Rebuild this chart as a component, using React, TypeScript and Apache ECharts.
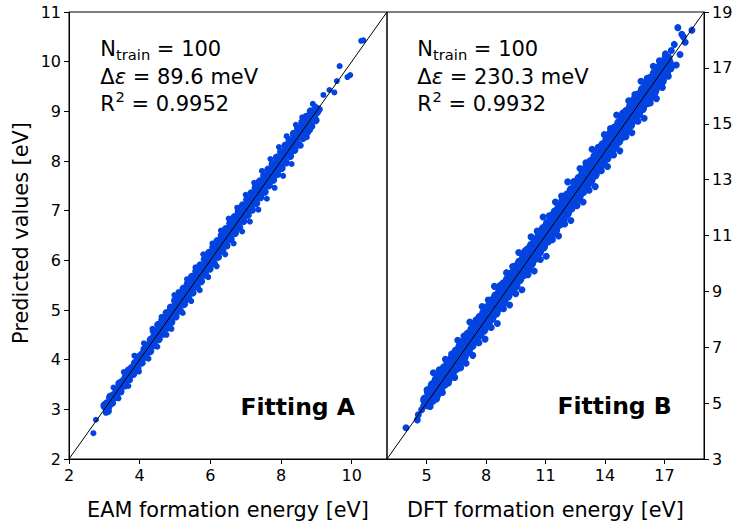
import React, { useEffect, useRef } from "react";
import * as echarts from "echarts";

// ---- axis ranges & ticks ----
const rangeA = [2, 11];
const rangeB = [3, 19];
const xTicksA = [2, 4, 6, 8, 10];
const yTicksA = [2, 3, 4, 5, 6, 7, 8, 9, 10, 11];
const xTicksB = [5, 8, 11, 14, 17];
const yTicksB = [3, 5, 7, 9, 11, 13, 15, 17, 19];

// ---- annotation texts ----
const labelA = "Fitting A";
const labelB = "Fitting B";
const nTrainA = "100";
const nTrainB = "100";
const deltaA = "89.6 meV";
const deltaB = "230.3 meV";
const r2A = "0.9952";
const r2B = "0.9932";
const xTitleA = "EAM formation energy [eV]";
const xTitleB = "DFT formation energy [eV]";
const yTitle = "Predicted values [eV]";

// ---- Fitting A: dense core of the cloud ----
const fitACore = [
  [3.03, 3.07], [3.11, 3.09], [3.19, 3.24], [3.28, 3.27], [3.37, 3.38], [3.45, 3.51], [3.54, 3.55], [3.63, 3.64],
  [3.71, 3.77], [3.8, 3.82], [3.89, 3.92], [3.98, 4.03], [4.07, 4.08], [4.16, 4.2], [4.25, 4.27], [4.34, 4.39],
  [4.43, 4.45], [4.52, 4.56], [4.61, 4.63], [4.7, 4.76], [4.79, 4.81], [4.88, 4.93], [4.97, 4.99], [5.06, 5.12],
  [5.15, 5.17], [5.24, 5.29], [5.33, 5.35], [5.42, 5.46], [5.51, 5.53], [5.6, 5.66], [5.69, 5.71], [5.78, 5.82],
  [5.87, 5.88], [5.96, 6.02], [6.05, 6.07], [6.14, 6.18], [6.23, 6.25], [6.32, 6.37], [6.41, 6.42], [6.5, 6.55],
  [6.59, 6.6], [6.68, 6.74], [6.77, 6.78], [6.86, 6.9], [6.95, 6.96], [7.04, 7.09], [7.13, 7.14], [7.22, 7.26],
  [7.31, 7.32], [7.4, 7.45], [7.49, 7.5], [7.58, 7.62], [7.67, 7.68], [7.76, 7.81], [7.85, 7.86], [7.94, 7.98],
  [8.03, 8.04], [8.12, 8.16], [8.21, 8.22], [8.3, 8.34], [8.39, 8.4], [8.48, 8.52], [8.57, 8.58], [8.66, 8.7],
  [8.75, 8.76], [8.84, 8.87], [8.93, 8.95], [9.02, 9.03],
];
const fitAUpper = [
  [4.4, 4.57], [4.52, 4.7], [4.64, 4.8], [4.76, 4.94], [4.88, 5.05], [5.0, 5.19], [5.12, 5.29], [5.24, 5.43],
  [5.36, 5.53], [5.48, 5.67], [5.6, 5.78], [5.72, 5.9], [5.84, 6.02], [5.96, 6.15], [6.08, 6.26], [6.2, 6.39],
  [6.32, 6.5], [6.44, 6.63], [6.56, 6.74], [6.68, 6.87], [6.8, 6.98], [6.92, 7.11], [7.04, 7.22], [7.16, 7.35],
  [7.28, 7.46], [7.4, 7.59], [7.52, 7.7], [7.64, 7.83], [7.76, 7.94], [7.88, 8.07], [8.0, 8.18], [8.12, 8.31],
  [8.24, 8.42], [8.36, 8.55], [8.48, 8.66], [8.6, 8.78], [8.72, 8.89], [8.84, 9.0],
];
const fitALower = [
  [3.1, 3.02], [3.22, 3.13], [3.34, 3.25], [3.46, 3.36], [3.58, 3.48], [3.7, 3.6], [3.82, 3.71], [3.94, 3.83],
  [4.06, 3.94], [4.18, 4.06], [4.3, 4.17], [4.42, 4.29], [4.54, 4.41], [4.66, 4.52], [4.78, 4.64], [4.9, 4.76],
  [5.02, 4.87], [5.14, 4.99], [5.26, 5.12], [5.38, 5.23], [5.5, 5.35], [5.62, 5.47], [5.74, 5.58], [5.86, 5.71],
  [5.98, 5.83], [6.1, 5.94], [6.22, 6.07], [6.34, 6.19], [6.46, 6.3], [6.58, 6.43], [6.7, 6.55], [6.82, 6.66],
  [6.94, 6.79], [7.06, 6.91], [7.18, 7.02], [7.3, 7.15], [7.42, 7.27], [7.54, 7.38], [7.66, 7.51], [7.78, 7.62],
  [7.9, 7.74], [8.02, 7.86], [8.14, 7.97], [8.26, 8.1], [8.38, 8.22], [8.5, 8.33], [8.62, 8.46], [8.74, 8.58],
  [8.86, 8.7], [8.98, 8.82],
];

// ---- Fitting A: spread / edge points ----
const fitAPoints = [
  [2.69, 2.52], [2.76, 2.79], [3.04, 2.93], [3.09, 2.94], [3.13, 2.96], [3.06, 3.14], [3.26, 3.44], [3.4, 3.22],
  [3.55, 3.75], [3.68, 3.47], [3.85, 4.08], [3.98, 3.76], [4.12, 4.33], [4.25, 4.02], [4.36, 4.62], [4.5, 4.26],
  [4.62, 4.86], [4.76, 4.5], [4.98, 5.3], [4.9, 4.62], [5.1, 5.36], [5.22, 4.94], [5.34, 5.62], [5.46, 5.18],
  [5.58, 5.86], [5.7, 5.4], [5.8, 6.12], [5.94, 5.66], [6.06, 6.34], [6.18, 5.88], [6.3, 6.6], [6.42, 6.12],
  [6.52, 6.84], [6.66, 6.34], [6.76, 7.06], [6.9, 6.58], [7.0, 7.32], [7.12, 6.78], [7.24, 7.56], [7.36, 7.02],
  [7.46, 7.8], [7.6, 7.24], [7.7, 8.04], [7.82, 7.46], [7.94, 8.28], [8.06, 7.7], [8.16, 8.5], [8.3, 7.94],
  [8.42, 8.73], [8.56, 8.31], [8.6, 8.88], [8.73, 8.48], [8.82, 8.62], [8.9, 9.15], [8.96, 9.1], [9.04, 8.97],
  [9.1, 9.04], [9.2, 9.33], [9.37, 9.43], [9.51, 9.38], [9.58, 9.61], [9.66, 9.91], [9.88, 9.69], [9.96, 9.73],
  [10.27, 10.42], [10.33, 10.43],
];

// ---- Fitting B: dense core (three strands of the band) ----
const fitBCoreUpper = [
  [4.95, 5.12], [5.14, 5.41], [5.33, 5.63], [5.53, 5.82], [5.74, 6.01], [5.93, 6.24], [6.13, 6.44], [6.34, 6.61],
  [6.53, 6.84], [6.73, 7.02], [6.94, 7.21], [7.13, 7.45], [7.33, 7.62], [7.54, 7.81], [7.73, 8.05], [7.93, 8.22],
  [8.14, 8.41], [8.33, 8.64], [8.53, 8.82], [8.74, 9.01], [8.93, 9.25], [9.13, 9.42], [9.34, 9.61], [9.53, 9.85],
  [9.73, 10.02], [9.94, 10.21], [10.13, 10.45], [10.33, 10.62], [10.54, 10.81], [10.73, 11.04], [10.93, 11.22],
  [11.14, 11.41], [11.33, 11.65], [11.53, 11.82], [11.74, 12.01], [11.93, 12.24], [12.13, 12.42], [12.34, 12.61],
  [12.53, 12.85], [12.73, 13.02], [12.94, 13.21], [13.13, 13.44], [13.33, 13.62], [13.54, 13.81], [13.73, 14.04],
  [13.93, 14.22], [14.14, 14.41], [14.33, 14.63], [14.53, 14.82], [14.74, 15.01], [14.93, 15.23], [15.13, 15.42],
  [15.34, 15.61], [15.53, 15.83], [15.73, 16.01], [15.94, 16.21], [16.13, 16.42], [16.33, 16.6], [16.54, 16.79],
  [16.73, 16.98], [16.93, 17.16], [17.13, 17.34],
];
const fitBCoreMid = [
  [5.0, 5.06], [5.2, 5.24], [5.4, 5.45], [5.6, 5.63], [5.8, 5.86], [6.0, 6.03], [6.2, 6.25], [6.4, 6.44],
  [6.6, 6.64], [6.8, 6.83], [7.0, 7.05], [7.2, 7.22], [7.4, 7.45], [7.6, 7.63], [7.8, 7.84], [8.0, 8.02],
  [8.2, 8.25], [8.4, 8.42], [8.6, 8.64], [8.8, 8.82], [9.0, 9.05], [9.2, 9.22], [9.4, 9.44], [9.6, 9.62],
  [9.8, 9.85], [10.0, 10.02], [10.2, 10.24], [10.4, 10.42], [10.6, 10.64], [10.8, 10.82], [11.0, 11.05],
  [11.2, 11.22], [11.4, 11.43], [11.6, 11.62], [11.8, 11.84], [12.0, 12.02], [12.2, 12.23], [12.4, 12.42],
  [12.6, 12.63], [12.8, 12.81], [13.0, 13.03], [13.2, 13.21], [13.4, 13.42], [13.6, 13.61], [13.8, 13.82],
  [14.0, 14.01], [14.2, 14.22], [14.4, 14.4], [14.6, 14.62], [14.8, 14.8], [15.0, 15.02], [15.2, 15.2],
  [15.4, 15.41], [15.6, 15.59], [15.8, 15.81], [16.0, 15.99], [16.2, 16.2], [16.4, 16.38], [16.6, 16.59],
  [16.8, 16.77], [17.0, 16.99], [17.2, 17.17],
];
const fitBCoreLower = [
  [5.06, 4.97], [5.25, 5.12], [5.46, 5.3], [5.65, 5.48], [5.85, 5.69], [6.06, 5.88], [6.25, 6.08], [6.46, 6.27],
  [6.65, 6.49], [6.85, 6.66], [7.06, 6.87], [7.25, 7.08], [7.46, 7.26], [7.65, 7.47], [7.85, 7.64], [8.06, 7.86],
  [8.25, 8.06], [8.46, 8.24], [8.65, 8.45], [8.85, 8.63], [9.06, 8.85], [9.25, 9.04], [9.46, 9.22], [9.65, 9.44],
  [9.85, 9.62], [10.06, 9.83], [10.25, 10.02], [10.46, 10.21], [10.65, 10.43], [10.85, 10.61], [11.06, 10.82],
  [11.25, 11.01], [11.46, 11.2], [11.65, 11.42], [11.85, 11.6], [12.06, 11.81], [12.25, 12.0], [12.46, 12.2],
  [12.65, 12.41], [12.85, 12.59], [13.06, 12.8], [13.25, 12.99], [13.46, 13.19], [13.65, 13.4], [13.85, 13.58],
  [14.06, 13.79], [14.25, 13.98], [14.46, 14.18], [14.65, 14.39], [14.85, 14.57], [15.06, 14.78], [15.25, 14.97],
  [15.46, 15.17], [15.65, 15.38], [15.85, 15.56], [16.06, 15.77], [16.25, 15.96], [16.46, 16.16], [16.65, 16.37],
  [16.85, 16.55], [17.06, 16.8], [17.25, 17.02],
];

// ---- Fitting B: spread / edge points ----
const fitBPoints = [
  [3.96, 4.12], [4.53, 4.4], [4.58, 4.58], [4.75, 4.76], [4.85, 4.9],
  [5.02, 5.48], [5.34, 6.09], [5.64, 6.19], [5.95, 6.57], [6.26, 6.76], [6.57, 7.25], [6.88, 7.4], [7.18, 7.9],
  [7.49, 7.97], [7.8, 8.46], [8.11, 8.69], [8.42, 9.18], [8.72, 9.22], [9.03, 9.67], [9.34, 9.89], [9.65, 10.39],
  [9.96, 10.44], [10.27, 10.95], [10.58, 11.16], [10.88, 11.66], [11.19, 11.71], [11.5, 12.2], [11.81, 12.41],
  [12.12, 12.92], [12.43, 12.93], [12.74, 13.4], [13.04, 13.6], [13.35, 14.09], [13.66, 14.16], [13.97, 14.61],
  [14.28, 14.83], [14.59, 15.31], [14.9, 15.38], [15.2, 15.82], [15.51, 16.05], [15.82, 16.52], [16.13, 16.63],
  [16.44, 17.06], [16.75, 17.25], [17.05, 17.5],
  [5.18, 4.88], [5.5, 5.15], [5.8, 5.38], [6.1, 5.72], [6.42, 5.92], [6.72, 6.27], [6.99, 6.43], [7.33, 6.71],
  [7.64, 7.16], [7.95, 7.29], [8.26, 7.71], [8.57, 7.85], [8.88, 8.38], [9.19, 8.51], [9.5, 8.92], [9.81, 9.06],
  [10.12, 9.6], [10.43, 9.73], [10.74, 10.14], [11.04, 10.26], [11.35, 10.85], [11.66, 10.98], [11.97, 11.41],
  [12.28, 11.54], [12.59, 12.07], [12.9, 12.2], [13.2, 12.62], [13.51, 12.75], [13.82, 13.32], [14.13, 13.47],
  [14.44, 13.88], [14.75, 14.03], [15.06, 14.54], [15.36, 14.68], [15.67, 15.09], [15.98, 15.2], [16.29, 15.74],
  [16.6, 15.9], [16.9, 16.3], [17.2, 16.7],
  [17.35, 17.62], [17.5, 17.84], [17.6, 17.1], [17.68, 18.44], [17.79, 17.48], [17.88, 18.2], [17.96, 18.11],
  [18.05, 17.92], [18.39, 18.35],
];

const FONT = "DejaVu Sans";
const BLUE = "#0343df";

let measureCtx: CanvasRenderingContext2D | null = null;
function tw(text: string, size: number, weight = "normal", style = "normal") {
  if (!measureCtx) measureCtx = document.createElement("canvas").getContext("2d");
  measureCtx!.font = `${style} ${weight} ${size}px "${FONT}"`;
  return measureCtx!.measureText(text).width;
}

function txt(x: number, y: number, text: string, size: number, extra: any = {}) {
  const align = extra.align || "left";
  return {
    type: "text",
    x,
    y,
    rotation: extra.rotation || 0,
    silent: true,
    style: {
      text,
      fill: "#000",
      fontSize: size,
      fontFamily: FONT,
      fontWeight: extra.weight || "normal",
      fontStyle: extra.style || "normal",
      align,
      textAlign: align,
      verticalAlign: "middle",
      textVerticalAlign: "middle",
    },
  };
}

// baseline -> "middle" y for DejaVu Sans
const mid = (baseline: number, size: number) => baseline - 0.346 * size;

function annotation(x0: number, nTrain: string, delta: string, r2: string) {
  const F = 21;
  const S = 14.7;
  const els: any[] = [];
  let x = x0;
  els.push(txt(x, mid(56.7, F), "N", F));
  x += tw("N", F);
  els.push(txt(x, mid(59.5, S), "train", S));
  x += tw("train", S);
  els.push(txt(x, mid(56.7, F), " = " + nTrain, F));
  x = x0;
  els.push(txt(x, mid(84, F), "\u0394", F));
  x += tw("\u0394", F);
  els.push(txt(x, mid(84, F), "\u03b5", F, { style: "italic" }));
  x += tw("\u03b5", F, "normal", "italic");
  els.push(txt(x, mid(84, F), " = " + delta, F));
  x = x0;
  els.push(txt(x, mid(111, F), "R", F));
  x += tw("R", F);
  els.push(txt(x + 0.5, mid(101.7, S), "2", S));
  x += tw("2", S) + 0.5;
  els.push(txt(x, mid(111, F), " = " + r2, F));
  return els;
}

function axisCommon(ticks: number[]) {
  return {
    type: "value",
    axisLine: { show: true, lineStyle: { color: "#000", width: 1 } },
    axisTick: { show: true, customValues: ticks, length: 5, lineStyle: { color: "#000", width: 1 } },
    axisLabel: { show: true, customValues: ticks, color: "#000", fontSize: 16, fontFamily: FONT, margin: 8 },
    splitLine: { show: false },
  };
}

export default function App() {
  const ref = useRef<HTMLDivElement>(null);
  useEffect(() => {
    if (!ref.current) return;
    const chart = echarts.init(ref.current, undefined, { renderer: "svg" });
    const scatter = (data: number[][], idx: number, size: number) => ({
      type: "scatter",
      xAxisIndex: idx,
      yAxisIndex: idx,
      data,
      symbol: "circle",
      symbolSize: size,
      itemStyle: { color: BLUE, opacity: 1 },
      silent: true,
      z: 2,
    });
    const diag = (range: number[], idx: number) => ({
      type: "line",
      xAxisIndex: idx,
      yAxisIndex: idx,
      data: [
        [range[0], range[0]],
        [range[1], range[1]],
      ],
      symbol: "none",
      lineStyle: { color: "#000", width: 1 },
      silent: true,
      z: 5,
    });
    const option: any = {
      animation: false,
      backgroundColor: "#fff",
      grid: [
        { left: 69, top: 12, width: 318, height: 447, show: true, borderColor: "#000", borderWidth: 1, backgroundColor: "transparent" },
        { left: 387, top: 12, width: 317, height: 447, show: true, borderColor: "#000", borderWidth: 1, backgroundColor: "transparent" },
      ],
      xAxis: [
        { ...axisCommon(xTicksA), gridIndex: 0, min: rangeA[0], max: rangeA[1], position: "bottom" },
        { ...axisCommon(xTicksB), gridIndex: 1, min: rangeB[0], max: rangeB[1], position: "bottom" },
      ],
      yAxis: [
        { ...axisCommon(yTicksA), gridIndex: 0, min: rangeA[0], max: rangeA[1], position: "left" },
        { ...axisCommon(yTicksB), gridIndex: 1, min: rangeB[0], max: rangeB[1], position: "right" },
      ],
      series: [
        scatter(fitAPoints, 0, 6),
        scatter(fitAUpper, 0, 8),
        scatter(fitALower, 0, 8),
        scatter(fitACore, 0, 10),
        diag(rangeA, 0),
        scatter(fitBPoints, 1, 7),
        scatter(fitBCoreUpper, 1, 11),
        scatter(fitBCoreLower, 1, 11),
        scatter(fitBCoreMid, 1, 11),
        diag(rangeB, 1),
      ],
      graphic: [
        ...annotation(100.3, nTrainA, deltaA, r2A),
        ...annotation(417.3, nTrainB, deltaB, r2B),
        txt(240.5, mid(415, 23.5), labelA, 23.5, { weight: "bold" }),
        txt(557.5, mid(414.3, 23.5), labelB, 23.5, { weight: "bold" }),
        txt(228, mid(516.7, 20.8), xTitleA, 20.8, { align: "center" }),
        txt(545.5, mid(516.7, 20.8), xTitleB, 20.8, { align: "center" }),
        txt(mid(28.3, 20.8), 233, yTitle, 20.8, { align: "center", rotation: Math.PI / 2 }),
      ],
    };
    chart.setOption(option);
    return () => chart.dispose();
  }, []);
  return (
    <div
      ref={ref}
      style={{ position: "absolute", left: 0, top: 0, width: 736, height: 521, background: "#fff" }}
    />
  );
}
